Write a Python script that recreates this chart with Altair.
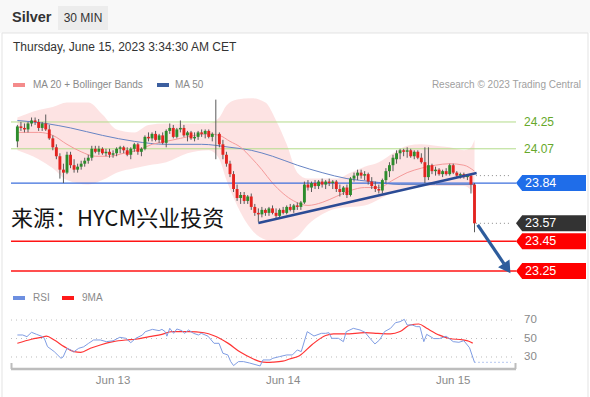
import altair as alt
import pandas as pd

# ---------------- candle data (30 min bars, index 0 = Jun 12 10:30) ----------------
opens = [24.12,24.22,24.21,24.20,24.24,24.26,24.25,24.21,24.24,24.20,
         24.14,24.08,24.02,23.93,23.91,24.03,23.96,23.93,23.95,23.97,
         23.99,24.01,24.07,24.05,24.07,24.04,24.05,24.03,24.04,24.07,
         24.08,24.06,24.03,24.07,24.10,24.05,24.07,24.15,24.14,24.17,
         24.13,24.16,24.11,24.19,24.21,24.15,24.20,24.21,24.16,24.18,
         24.14,24.15,24.18,24.17,24.19,24.15,24.17,24.17,24.10,24.03,
         23.97,23.90,23.80,23.74,23.76,23.72,23.75,23.68,23.64,23.63,
         23.66,23.64,23.67,23.64,23.62,23.66,23.64,23.68,23.66,23.69,
         23.68,23.71,23.83,23.81,23.84,23.82,23.85,23.83,23.85,23.84,
         23.85,23.80,23.78,23.81,23.76,23.87,23.89,23.91,23.89,23.90,
         23.85,23.82,23.80,23.79,23.86,23.92,23.96,24.00,24.04,24.06,
         24.05,24.06,24.02,24.05,24.01,23.98,23.88,23.96,23.92,23.93,
         23.90,23.92,23.90,23.96,23.91,23.89,23.90,23.88,23.89,23.83]
highs = [24.23,24.25,24.24,24.25,24.28,24.28,24.27,24.25,24.30,24.23,
         24.16,24.10,24.04,23.97,24.05,24.05,24.00,23.97,23.99,24.01,
         24.03,24.09,24.09,24.09,24.08,24.07,24.07,24.06,24.08,24.09,
         24.09,24.08,24.08,24.11,24.11,24.08,24.16,24.18,24.18,24.19,
         24.17,24.18,24.20,24.24,24.23,24.21,24.26,24.23,24.19,24.19,
         24.18,24.19,24.20,24.20,24.20,24.18,24.40,24.18,24.13,24.05,
         23.99,23.92,23.83,23.78,23.78,23.76,23.77,23.70,23.67,23.68,
         23.67,23.68,23.69,23.67,23.67,23.68,23.69,23.70,23.70,23.71,
         23.72,23.85,23.86,23.85,23.86,23.86,23.87,23.86,23.87,23.86,
         23.86,23.83,23.82,23.83,23.88,23.91,23.93,23.93,23.92,23.91,
         23.88,23.85,23.83,23.87,23.94,23.98,24.03,24.06,24.07,24.07,
         24.08,24.07,24.06,24.06,24.04,24.08,24.08,23.97,23.95,23.94,
         23.93,23.94,23.97,23.97,23.92,23.91,23.91,23.90,23.90,23.84]
lows = [24.08,24.19,24.18,24.18,24.22,24.23,24.19,24.19,24.19,24.13,
        24.06,24.00,23.87,23.84,23.90,23.94,23.91,23.91,23.93,23.95,
        23.97,23.99,24.04,24.03,24.03,24.02,24.01,24.01,24.02,24.04,
        24.04,24.02,24.00,24.05,24.03,24.02,24.06,24.12,24.12,24.12,
        24.11,24.10,24.08,24.17,24.14,24.14,24.18,24.15,24.12,24.13,
        24.12,24.13,24.15,24.14,24.14,24.12,24.00,24.08,24.00,23.95,
        23.88,23.78,23.72,23.70,23.70,23.70,23.66,23.62,23.58,23.61,
        23.62,23.62,23.63,23.60,23.61,23.63,23.63,23.65,23.64,23.66,
        23.66,23.70,23.79,23.78,23.80,23.80,23.81,23.80,23.82,23.80,
        23.78,23.75,23.76,23.74,23.75,23.85,23.86,23.87,23.86,23.83,
        23.80,23.78,23.77,23.77,23.84,23.88,23.92,23.97,24.00,24.02,
        24.01,24.01,24.00,24.00,23.97,23.84,23.86,23.90,23.89,23.89,
        23.88,23.89,23.89,23.90,23.88,23.87,23.87,23.86,23.77,23.51]
closes = [24.22,24.21,24.20,24.24,24.26,24.25,24.21,24.24,24.20,24.14,
          24.08,24.02,23.93,23.91,24.03,23.96,23.93,23.95,23.97,23.99,
          24.01,24.07,24.05,24.07,24.04,24.05,24.03,24.04,24.07,24.08,
          24.06,24.03,24.07,24.10,24.05,24.07,24.15,24.14,24.17,24.13,
          24.16,24.11,24.19,24.21,24.15,24.20,24.21,24.16,24.18,24.14,
          24.15,24.18,24.17,24.19,24.15,24.17,24.17,24.10,24.03,23.97,
          23.90,23.80,23.74,23.76,23.72,23.75,23.68,23.64,23.63,23.66,
          23.64,23.67,23.64,23.62,23.66,23.64,23.68,23.66,23.69,23.68,
          23.71,23.83,23.81,23.84,23.82,23.85,23.83,23.85,23.84,23.85,
          23.80,23.78,23.81,23.76,23.87,23.89,23.91,23.89,23.90,23.85,
          23.82,23.80,23.79,23.86,23.92,23.96,24.01,24.04,24.06,24.05,
          24.06,24.02,24.05,24.01,23.98,23.88,23.96,23.92,23.93,23.90,
          23.92,23.90,23.96,23.91,23.89,23.90,23.88,23.89,23.83,23.57]

# Bollinger bands / MA20 / MA50 read at sample bar positions
bb_idx   = [0, 6, 10, 14, 20, 24, 28, 33, 37, 42, 48, 54, 57, 59, 62, 66, 70, 73, 76, 79,
            82, 86, 90, 94, 98, 102, 106, 110, 114, 118, 122, 126, 128, 129]
bb_upper = [24.28, 24.33, 24.35, 24.38, 24.38, 24.30, 24.20, 24.18, 24.23, 24.24, 24.24, 24.24,
            24.28, 24.36, 24.40, 24.41, 24.38, 24.26, 24.10, 23.91,
            23.87, 23.87, 23.87, 23.91, 23.95, 23.98, 24.04, 24.09, 24.10, 24.09, 24.08, 24.06, 24.08, 24.13]
bb_lower = [24.06, 24.00, 23.94, 23.86, 23.83, 23.86, 23.91, 23.94, 23.96, 23.98, 24.04, 24.06,
            24.00, 23.86, 23.69, 23.53, 23.46, 23.45, 23.45, 23.48,
            23.56, 23.63, 23.67, 23.68, 23.69, 23.73, 23.78, 23.81, 23.82, 23.82, 23.82, 23.82, 23.79, 23.75]
ma20_idx = [0, 6, 10, 14, 18, 22, 26, 30, 34, 38, 42, 46, 50, 54, 57, 60, 63, 66, 69, 72, 75, 78,
            82, 86, 90, 94, 98, 102, 106, 110, 114, 118, 122, 126, 129]
ma20_val = [24.18, 24.18, 24.16, 24.10, 24.05, 24.02, 24.02, 24.04, 24.06, 24.10, 24.12, 24.14,
            24.16, 24.17, 24.16, 24.12, 24.08, 24.01, 23.93, 23.84, 23.77, 23.72,
            23.69, 23.71, 23.75, 23.79, 23.81, 23.81, 23.86, 23.91, 23.94, 23.96, 23.97, 23.96, 23.92]
ma50_idx = [0, 8, 15, 24, 33, 42, 52, 60, 66, 72, 79, 86, 93, 100, 108, 118, 129]
ma50_val = [24.26, 24.24, 24.21, 24.16, 24.12, 24.10, 24.10, 24.08, 24.06, 24.02, 23.96, 23.91,
            23.87, 23.85, 23.83, 23.83, 23.83]

# drawn analysis
trend_idx = [68, 129.6]
trend_val = [23.572, 23.908]
arrow_idx = [129.9, 137.3]
arrow_val = [23.559, 23.300]
arrow_head_idx = [138.2]
arrow_head_val = [23.268]

green_levels = [24.25, 24.07]
blue_levels = [23.84]
red_levels = [23.45, 23.25]
box_prices = [23.84, 23.57, 23.45, 23.25]
box_colors = ["#1f6de9", "#333333", "#ff0000", "#ff0000"]
dotted_prices = [23.89, 23.57]

# RSI panel
rsi_idx = [0, 1.5, 2.7, 4, 5.4, 6.8, 7.6, 8.5, 10.4, 12.3, 12.9, 14, 15.1, 15.9, 17.3, 18.7, 20.1,
           21.5, 23.4, 25.1, 27, 28.9, 30.6, 32, 33.4, 35.3, 36.1, 38.1, 40, 40.8, 41.7, 42.2,
           43, 44.1, 45, 46.4, 47.2, 48.3, 49.7, 51.1, 51.9, 53.8, 55.5, 56.9, 58, 59.4, 60.2,
           61, 62.4, 63.8, 65.5, 68.5, 69.3, 71.3, 72.1, 74, 76, 77.6, 79, 80.1, 81.8, 83.7,
           85.8, 87, 87.9, 88.7, 90.6, 92, 92.8, 94.8, 96.7, 98.1, 99.5, 100.9, 102.2, 103.6,
           105.3, 106.7, 108, 109.2, 110, 111.4, 112.7, 113.6, 114.7, 115.5, 117.5, 119.1,
           121, 123, 124.6, 126, 127.6, 129]
rsi_val = [53.8, 53.8, 52.0, 56.7, 54.5, 52.5, 50.2, 41.2, 35.8, 28.6, 30.0, 39.4, 37.6, 35.5,
           39.4, 41.0, 44.8, 48.4, 48.4, 46.6, 47.5, 51.3, 50.2, 45.5, 50.2, 53.8, 57.4, 59.9,
           58.5, 59.9, 57.4, 52.5, 61.0, 55.6, 60.3, 58.5, 55.6, 59.2, 55.6, 53.8, 55.6, 52.5,
           44.8, 44.8, 34.0, 32.2, 25.0, 20.7, 25.0, 25.0, 23.5, 20.3, 26.8, 26.8, 28.6, 30.4,
           32.2, 32.2, 37.6, 35.8, 57.4, 52.7, 55.6, 55.6, 56.3, 50.2, 50.2, 46.6, 57.4, 61.0,
           59.2, 56.7, 50.2, 44.1, 48.4, 57.4, 61.0, 67.1, 68.2, 70.7, 64.6, 64.6, 62.8, 62.8,
           46.6, 54.5, 49.9, 49.9, 52.5, 46.6, 45.9, 47.6, 40.0, 24.2]
ma9_idx = [0, 4, 6.8, 8.2, 10.4, 13.2, 16, 17.9, 20.6, 23.4, 27, 30.6, 33.4, 37.2, 40.8, 43.6,
           48.3, 52.7, 55.5, 59.4, 63, 66.6, 68.5, 70.4, 72.1, 74.9, 76.8, 79.6, 83.2, 87, 89.2,
           92.5, 98.1, 101.7, 105.3, 108, 110.8, 113.3, 115.5, 119.1, 121.9, 125.7, 127.4, 128.5]
ma9_val = [44.8, 49.2, 51.3, 52.5, 48.4, 41.2, 35.8, 35.0, 39.4, 43.0, 46.6, 48.4, 49.2, 52.0,
           54.5, 57.4, 57.4, 56.2, 53.0, 45.0, 35.0, 27.8, 25.0, 24.2, 24.4, 25.5, 27.8, 31.4,
           43.5, 53.2, 55.0, 55.0, 56.3, 55.6, 55.0, 57.6, 64.6, 65.7, 61.0, 53.6, 50.0, 48.5,
           47.0, 45.0]
rsi_levels = [70, 50, 30]
day_ticks = [27, 75, 123]
day_labels = ["Jun 13", "Jun 14", "Jun 15"]

# ---------------- frames ----------------
candles = pd.DataFrame({"i": list(range(len(closes))), "open": opens, "high": highs,
                        "low": lows, "close": closes})
candles["dir"] = ["up" if c > o else ("down" if c < o else "flat") for o, c in zip(opens, closes)]
bb = pd.DataFrame({"i": bb_idx, "upper": bb_upper, "lower": bb_lower})
ma20 = pd.DataFrame({"i": ma20_idx, "v": ma20_val})
ma50 = pd.DataFrame({"i": ma50_idx, "v": ma50_val})
trend = pd.DataFrame({"i": trend_idx, "v": trend_val})
arrow = pd.DataFrame({"i": arrow_idx, "v": arrow_val})
arrow_head = pd.DataFrame({"i": arrow_head_idx, "v": arrow_head_val})
boxes = pd.DataFrame({"p": box_prices, "c": box_colors, "t": [f"{p:.2f}" for p in box_prices]})
greens = pd.DataFrame({"p": green_levels, "t": [f"{p:.2f}" for p in green_levels]})
dots = pd.DataFrame({"p": dotted_prices, "i0": [129.4] * len(dotted_prices),
                     "i1": [139.3] * len(dotted_prices)})
rsi = pd.DataFrame({"i": rsi_idx, "v": rsi_val})
ma9 = pd.DataFrame({"i": ma9_idx, "v": ma9_val})
rsi_lv = pd.DataFrame({"v": rsi_levels, "t": [str(v) for v in rsi_levels]})
rsi_tail = pd.DataFrame({"i": [129.0], "i1": [139.3], "v": [rsi_val[-1]]})
days = pd.DataFrame({"i": day_ticks, "t": day_labels})
one = pd.DataFrame({"k": [0]})

FONT = "Liberation Sans"
W, H = 505, 274          # price panel 0..190, RSI panel 213..274
XD = [-0.39, 139.3]
xs = alt.Scale(domain=XD, nice=False, zero=False)
ys = alt.Scale(domain=[23.156, 24.431], range=[190, 0], nice=False, zero=False)
rs = alt.Scale(domain=[17, 83], range=[274, 213], nice=False, zero=False)
X = alt.X("i:Q", scale=xs, axis=None)


def txt(text, x, y, size=12, color="#333", align="left", weight="normal", font=FONT, baseline="middle"):
    return alt.Chart(one).mark_text(text=text, align=align, baseline=baseline, fontSize=size,
                                    color=color, fontWeight=weight, font=font).encode(
        x=alt.value(x), y=alt.value(y))


def box(x, x2, y, y2, fill, stroke=None, fill_opacity=1):
    kw = dict(fill=fill, fillOpacity=fill_opacity)
    if stroke:
        kw["stroke"] = stroke
        kw["strokeWidth"] = 1
    return alt.Chart(one).mark_rect(**kw).encode(
        x=alt.value(x), x2=alt.value(x2), y=alt.value(y), y2=alt.value(y2))


def vrule(x, y, y2, color, width):
    return alt.Chart(one).mark_rule(color=color, strokeWidth=width).encode(
        x=alt.value(x), y=alt.value(y), y2=alt.value(y2))


bg = box(-11, 579, -95, 302, "#ffffff")
header_bg = box(-11, 579, -95, -62, "#f8f8f8")
card = box(-9, 577, -62, 305, "#ffffff", stroke="#e3e3e3", fill_opacity=0)
tag = box(47, 97, -89, -65, "#ececec")

band = alt.Chart(bb).mark_area(color="#fcd9d9", opacity=0.75, interpolate="monotone").encode(
    x=X, y=alt.Y("upper:Q", scale=ys, axis=None), y2="lower:Q")
l_ma20 = alt.Chart(ma20).mark_line(color="#f59a9a", strokeWidth=1, interpolate="monotone").encode(
    x=X, y=alt.Y("v:Q", scale=ys, axis=None))
l_ma50 = alt.Chart(ma50).mark_line(color="#6784c4", strokeWidth=1, interpolate="monotone").encode(
    x=X, y=alt.Y("v:Q", scale=ys, axis=None))

g_lines = alt.Chart(greens).mark_rule(color="#b3dc8a", strokeWidth=1).encode(
    x=alt.value(0), x2=alt.value(W), y=alt.Y("p:Q", scale=ys, axis=None))
g_text = alt.Chart(greens).mark_text(align="left", baseline="middle", fontSize=12, font=FONT,
                                     color="#66a82a").encode(
    x=alt.value(513), y=alt.Y("p:Q", scale=ys, axis=None), text="t:N")
b_lines = alt.Chart(pd.DataFrame({"p": blue_levels})).mark_rule(color="#3c6fdc", strokeWidth=1.3).encode(
    x=alt.value(0), x2=alt.value(W), y=alt.Y("p:Q", scale=ys, axis=None))
r_lines = alt.Chart(pd.DataFrame({"p": red_levels})).mark_rule(color="#ff1414", strokeWidth=1.6).encode(
    x=alt.value(0), x2=alt.value(W), y=alt.Y("p:Q", scale=ys, axis=None))
dot_lines = alt.Chart(dots).mark_rule(color="#8a8a8a", strokeWidth=1, strokeDash=[1, 3]).encode(
    x=alt.X("i0:Q", scale=xs, axis=None), x2="i1:Q", y=alt.Y("p:Q", scale=ys, axis=None))

PENT = "M -4.375 0 L -3.6 -1 L 4.375 -1 L 4.375 1 L -3.6 1 Z"
box_marks = alt.Chart(boxes).mark_point(shape=PENT, size=256, filled=True, opacity=1,
                                        strokeWidth=0).encode(
    x=alt.value(540), y=alt.Y("p:Q", scale=ys, axis=None),
    color=alt.Color("c:N", scale=None, legend=None))
box_text = alt.Chart(boxes).mark_text(align="left", baseline="middle", fontSize=12.5, font=FONT,
                                      color="#ffffff").encode(
    x=alt.value(514), y=alt.Y("p:Q", scale=ys, axis=None), text="t:N")

cscale = alt.Scale(domain=["up", "down", "flat"], range=["#2c8c2c", "#e32420", "#9a9a9a"])
wicks = alt.Chart(candles).mark_rule(color="#5a5a5a", strokeWidth=1).encode(
    x=X, y=alt.Y("low:Q", scale=ys, axis=None), y2="high:Q")
bodies = alt.Chart(candles).mark_bar(size=2.9).encode(
    x=X, y=alt.Y("open:Q", scale=ys, axis=None), y2="close:Q",
    color=alt.Color("dir:N", scale=cscale, legend=None))

trend_l = alt.Chart(trend).mark_line(color="#2b4b95", strokeWidth=2.6).encode(
    x=X, y=alt.Y("v:Q", scale=ys, axis=None))
arrow_l = alt.Chart(arrow).mark_line(color="#2d5c9c", strokeWidth=3.2).encode(
    x=X, y=alt.Y("v:Q", scale=ys, axis=None))
arrow_h = alt.Chart(arrow_head).mark_point(shape="triangle-down", size=190, filled=True, opacity=1,
                                           color="#2d5c9c", angle=326).encode(
    x=X, y=alt.Y("v:Q", scale=ys, axis=None))

# RSI
rsi_levels_l = alt.Chart(rsi_lv).mark_rule(color="#bcbcbc", strokeWidth=1, strokeDash=[1, 4]).encode(
    x=alt.value(0), x2=alt.value(W), y=alt.Y("v:Q", scale=rs, axis=None))
rsi_levels_t = alt.Chart(rsi_lv).mark_text(align="left", baseline="middle", fontSize=11.5, font=FONT,
                                           color="#8a8a8a").encode(
    x=alt.value(513), y=alt.Y("v:Q", scale=rs, axis=None), text="t:N")
rsi_line = alt.Chart(rsi).mark_line(color="#7f9de3", strokeWidth=1).encode(
    x=X, y=alt.Y("v:Q", scale=rs, axis=None))
rsi_dots = alt.Chart(rsi_tail).mark_rule(color="#8aa6e8", strokeWidth=1.2, strokeDash=[1, 3]).encode(
    x=X, x2="i1:Q", y=alt.Y("v:Q", scale=rs, axis=None))
ma9_line = alt.Chart(ma9).mark_line(color="#ff3535", strokeWidth=1.2, interpolate="monotone").encode(
    x=X, y=alt.Y("v:Q", scale=rs, axis=None))
axis_line = alt.Chart(one).mark_rule(color="#bdbdbd", strokeWidth=2.5).encode(
    x=alt.value(0), x2=alt.value(W), y=alt.value(H))
day_text = alt.Chart(days).mark_text(baseline="middle", align="center", fontSize=11.5, font=FONT,
                                     color="#8a8a8a").encode(
    x=X, y=alt.value(H + 12), text="t:N")

chart = alt.layer(
    bg, header_bg, card, tag,
    txt("Silver", 1, -77, size=14.5, weight="bold", color="#333333"),
    txt("30 MIN", 72, -77, size=12, align="center", color="#333333"),
    txt("Thursday, June 15, 2023 3:34:30 AM CET", 2, -48, size=12, color="#333333"),
    box(2, 14, -12, -8, "#f48b8b"),
    txt("MA 20 + Bollinger Bands", 22, -10, size=10, color="#8a8a8a"),
    box(146, 158, -12, -8, "#3c5f9f"),
    txt("MA 50", 164, -10, size=10, color="#8a8a8a"),
    txt("Research © 2023 Trading Central", 570, -10, size=10, color="#a0a0a0", align="right"),
    band, g_lines, l_ma50, l_ma20, b_lines, r_lines, dot_lines,
    wicks, bodies, trend_l, arrow_l, arrow_h,
    txt("来源：HYCM兴业投资", 0, 131, size=22, color="#151515", font="Noto Sans CJK SC",
        baseline="alphabetic"),
    g_text, box_marks, box_text,
    # RSI panel
    box(2, 14, 201, 205, "#6d8fe0"),
    txt("RSI", 22, 203, size=10, color="#8a8a8a"),
    box(51, 63, 201, 205, "#ff1a1a"),
    txt("9MA", 71, 203, size=10, color="#8a8a8a"),
    rsi_levels_l, rsi_levels_t, rsi_dots, ma9_line, rsi_line,
    axis_line, day_text,
    vrule(0.5, H - 6, H, "#bdbdbd", 2),
    vrule(W - 0.5, H - 6, H, "#bdbdbd", 2),
).resolve_scale(y="independent").properties(
    width=W, height=H, padding=0
).configure_view(strokeWidth=0).configure_text(font=FONT)

chart.save("out.html", embed_options={"renderer": "svg", "actions": False})
